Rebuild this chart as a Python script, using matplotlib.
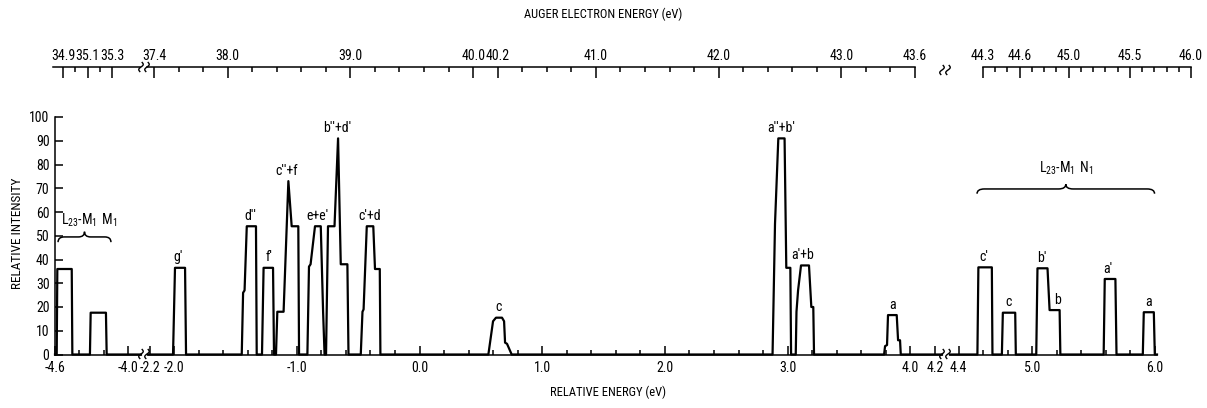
import numpy as np
import matplotlib
matplotlib.use("Agg")
import matplotlib.pyplot as plt
from matplotlib import font_manager as fm
from matplotlib.path import Path
from matplotlib.patches import PathPatch
from matplotlib.lines import Line2D

# ---------------- data ----------------
left_energy = [-4.600, -4.586, -4.581, -4.463, -4.458, -4.314, -4.308, -4.183, -4.177, -3.896]
left_intensity = [0, 0, 36, 36, 0, 0, 17.6, 17.6, 0, 0]

mid_energy = [-2.213,
              -2.009, -1.993, -1.911, -1.903,
              -1.449, -1.438, -1.426, -1.408, -1.333, -1.327,
              -1.284, -1.271, -1.194, -1.186,
              -1.170, -1.159, -1.108, -1.069, -1.042, -0.988, -0.982,
              -0.914, -0.901, -0.888, -0.852, -0.805, -0.786, -0.774,
              -0.762, -0.746, -0.693, -0.664, -0.642, -0.588, -0.579,
              -0.479, -0.465, -0.456, -0.430, -0.377, -0.363, -0.324, -0.319,
              0.561, 0.599, 0.623, 0.672, 0.689, 0.697, 0.713, 0.751,
              2.877, 2.897, 2.924, 2.975, 2.989, 3.022, 3.028,
              3.066, 3.072, 3.085, 3.109, 3.174, 3.193, 3.209, 3.215,
              3.786, 3.794, 3.810, 3.818, 3.889, 3.900, 3.916, 3.922,
              4.258]
mid_intensity = [0,
                 0, 36.5, 36.5, 0,
                 0, 26, 27, 54, 54, 0,
                 0, 36.5, 36.5, 0,
                 0, 18, 18, 73, 54, 54, 0,
                 0, 37, 38, 54, 54, 18, 0,
                 0, 54, 54, 91, 38, 38, 0,
                 0, 18, 19, 54, 54, 36, 36, 0,
                 0, 14, 15.5, 15.5, 14, 5, 4.5, 0,
                 0, 55, 91, 91, 36.5, 36.5, 0,
                 0, 18, 27, 37.5, 37.5, 20, 20, 0,
                 0, 3.5, 4, 16.6, 16.6, 6, 6, 0,
                 0]

right_energy = [4.328, 4.552, 4.560, 4.670, 4.675, 4.752, 4.760, 4.861, 4.866,
                5.033, 5.043, 5.125, 5.142, 5.224, 5.230, 5.584, 5.593, 5.680,
                5.689, 5.904, 5.912, 5.994, 6.002, 6.020]
right_intensity = [0, 0, 36.7, 36.7, 0, 0, 17.6, 17.6, 0,
                   0, 36.3, 36.3, 18.7, 18.7, 0, 0, 31.8, 31.8,
                   0, 0, 17.8, 17.8, 0, 0]

mid_labels = ["g'", "d''", "f'", "c''+f", "e+e'", "b''+d'", "c'+d", "c", "a''+b'", "a'+b", "a"]
mid_label_energy = [-1.967, -1.381, -1.227, -1.080, -0.835, -0.672, -0.403, 0.648, 2.946, 3.125, 3.857]
mid_label_height = [36.5, 54, 36.5, 73, 54, 91, 54, 15.5, 91, 37.5, 16.6]

right_labels = ["c'", "c", "b'", "b", "a'", "a"]
right_label_energy = [4.607, 4.803, 5.082, 5.205, 5.615, 5.951]
right_label_height = [36.7, 17.6, 36.3, 18.7, 31.8, 17.8]

y_ticks = [0, 10, 20, 30, 40, 50, 60, 70, 80, 90, 100]

left_major = [-4.6, -4.0]
left_minor = [-4.4, -4.2]
mid_major = [-2.2, -2.0, -1.0, 0.0, 1.0, 2.0, 3.0, 4.0, 4.2]
mid_minor = [-1.8, -1.6, -1.4, -1.2, -0.8, -0.6, -0.4, -0.2, 0.2, 0.4, 0.6, 0.8,
             1.2, 1.4, 1.6, 1.8, 2.2, 2.4, 2.6, 2.8, 3.2, 3.4, 3.6, 3.8]
right_major = [4.4, 5.0, 6.0]
right_minor = [4.6, 4.8, 5.2, 5.4, 5.6, 5.8]

top1_major = [34.9, 35.1, 35.3]
top1_minor = [35.0, 35.2]
top2_major = [37.4, 38.0, 39.0, 40.0, 40.2, 41.0, 42.0, 43.0, 43.6]
top2_minor = [37.6, 37.8, 38.2, 38.4, 38.6, 38.8, 39.2, 39.4, 39.6, 39.8, 40.4, 40.6,
              40.8, 41.2, 41.4, 41.6, 41.8, 42.2, 42.4, 42.6, 42.8, 43.2, 43.4]
top3_major = [44.3, 44.6, 45.0, 45.5, 46.0]
top3_minor = [44.4, 44.5, 44.7, 44.8, 44.9, 45.1, 45.2, 45.3, 45.4, 45.6, 45.7, 45.8, 45.9]

# ---------------- fonts ----------------
names = {f.name for f in fm.fontManager.ttflist}
FONT = "DejaVu Sans"
for cand in ["Liberation Sans Narrow", "DejaVu Sans Condensed", "Roboto Condensed"]:
    if cand in names:
        FONT = cand
        break
narrow = FONT != "DejaVu Sans"
plt.rcParams["font.family"] = [FONT, "DejaVu Sans"]
FS = 10 if narrow else 8
plt.rcParams["mathtext.fontset"] = "dejavusans"

W, H = 1207, 408
fig = plt.figure(figsize=(W / 100, H / 100), dpi=100)


def fx(px):
    return px / W


def fy(py):
    return 1 - py / H


LW = 1.6
BASE, TOP = 354.5, 117.0


def spec_axes(x0, x1, xlim):
    ax = fig.add_axes([fx(x0), fy(BASE), (x1 - x0) / W, (BASE - TOP) / H])
    ax.set_xlim(*xlim)
    ax.set_ylim(0, 100)
    ax.patch.set_visible(False)
    for s in ["top", "right"]:
        ax.spines[s].set_visible(False)
    ax.spines["bottom"].set_linewidth(1.1)
    ax.spines["left"].set_linewidth(1.1)
    ax.tick_params(axis="x", which="major", direction="in", length=6.5, width=1.1,
                   pad=5, labelsize=FS)
    ax.tick_params(axis="x", which="minor", direction="in", length=3.6, width=1.1)
    return ax


ax1 = spec_axes(55, 141, (-4.600, -3.896))
ax2 = spec_axes(148, 942, (-2.213, 4.258))
ax3 = spec_axes(950, 1157, (4.328, 6.020))

for ax, e, i, maj, mnr in [(ax1, left_energy, left_intensity, left_major, left_minor),
                           (ax2, mid_energy, mid_intensity, mid_major, mid_minor),
                           (ax3, right_energy, right_intensity, right_major, right_minor)]:
    ax.plot(e, i, color="black", lw=LW, solid_joinstyle="round", clip_on=False)
    ax.set_xticks(maj, labels=[f"{v:.1f}" for v in maj])
    ax.set_xticks(mnr, minor=True)

ax1.set_yticks(y_ticks, labels=[str(v) for v in y_ticks])
ax1.tick_params(axis="y", direction="in", length=6, width=1.1, pad=4, labelsize=FS)
for ax in (ax2, ax3):
    ax.spines["left"].set_visible(False)
    ax.set_yticks([])

# peak labels
for ax, labs, es, hs in [(ax2, mid_labels, mid_label_energy, mid_label_height),
                         (ax3, right_labels, right_label_energy, right_label_height)]:
    for t, e, h in zip(labs, es, hs):
        ax.annotate(t, (e, h), xytext=(0, 2.5), textcoords="offset points",
                    ha="center", va="bottom", fontsize=FS)


# braces
def brace(ax, x0, x1, y, r, h):
    xm = 0.5 * (x0 + x1)
    verts = [(x0, y - h), (x0, y), (x0 + r, y), (xm - r, y), (xm, y), (xm, y + h),
             (xm, y), (xm + r, y), (x1 - r, y), (x1, y), (x1, y - h)]
    codes = [Path.MOVETO, Path.CURVE3, Path.CURVE3, Path.LINETO, Path.CURVE3, Path.CURVE3,
             Path.CURVE3, Path.CURVE3, Path.LINETO, Path.CURVE3, Path.CURVE3]
    ax.add_patch(PathPatch(Path(verts, codes), fill=False, lw=1.1, color="black", clip_on=False))


brace(ax1, -4.575, -4.142, 49.5, 0.05, 2.2)
ax1.text(-4.32, 56.5, r"$\mathregular{L_{23}}$-$\mathregular{M_1\ M_1}$", ha="center",
         va="center", fontsize=FS)
brace(ax3, 4.549, 6.0, 69.7, 0.06, 2.0)
ax3.text(5.279, 78.5, r"$\mathregular{L_{23}}$-$\mathregular{M_1\ N_1}$", ha="center",
         va="center", fontsize=FS)


# top axis
def top_axes(x0, x1, xlim, maj, mnr):
    ax = fig.add_axes([fx(x0), fy(67), (x1 - x0) / W, 0.0005])
    ax.set_xlim(*xlim)
    ax.patch.set_visible(False)
    for s in ["bottom", "left", "right"]:
        ax.spines[s].set_visible(False)
    ax.spines["top"].set_linewidth(1.1)
    ax.xaxis.set_ticks_position("top")
    ax.xaxis.set_label_position("top")
    ax.set_yticks([])
    ax.set_xticks(maj, labels=[f"{v:.1f}" for v in maj])
    ax.set_xticks(mnr, minor=True)
    ax.tick_params(axis="x", which="major", direction="in", length=8, width=1.1, pad=3,
                   labelsize=FS)
    ax.tick_params(axis="x", which="minor", direction="in", length=3.6, width=1.1)
    return ax


top_axes(53, 140, (34.818, 35.528), top1_major, top1_minor)
top_axes(147, 915, (37.343, 43.6), top2_major, top2_minor)
top_axes(983, 1191, (44.3, 46.0), top3_major, top3_minor)


# break marks
def squiggles(cx, cy):
    t = np.linspace(-1, 1, 25)
    for dx in (-3, 3):
        xs = cx + dx + 1.6 * np.sin(np.pi * t) + 1.2 * t
        ys = cy - 4.5 * t
        fig.add_artist(Line2D(fx(xs), fy(ys), color="black", lw=1.0))


squiggles(144, 354)
squiggles(945, 354)
squiggles(144, 67)
squiggles(945, 70)

fig.text(fx(603), fy(14), "AUGER ELECTRON ENERGY (eV)", ha="center", va="center", fontsize=FS - 1)
fig.text(fx(608), fy(392), "RELATIVE ENERGY (eV)", ha="center", va="center", fontsize=FS - 1)
fig.text(fx(18), fy(233), "RELATIVE INTENSITY", ha="center", va="center", rotation=90,
         fontsize=FS - 0.5)

fig.savefig("out.png", dpi=100)
